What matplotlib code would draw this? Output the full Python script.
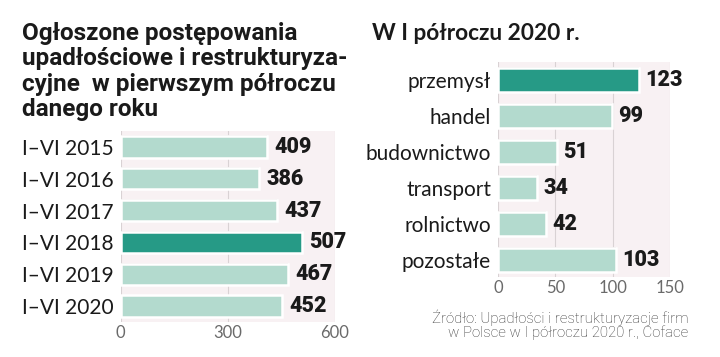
import numpy as np
import matplotlib.pyplot as plt

# left panel: proceedings in H1 of each year
years = ['I–VI 2015', 'I–VI 2016', 'I–VI 2017', 'I–VI 2018', 'I–VI 2019', 'I–VI 2020']
year_vals = [409, 386, 437, 507, 467, 452]
year_highlight = 'I–VI 2018'

# right panel: H1 2020 by sector
sectors = ['przemysł', 'handel', 'budownictwo', 'transport', 'rolnictwo', 'pozostałe']
sector_vals = [123, 99, 51, 34, 42, 103]
sector_highlight = 'przemysł'

left_ticks = [0, 300, 600]
right_ticks = [0, 50, 100, 150]

DARK = '#269a86'
LIGHT = '#b3dace'
BG = '#f8f1f3'
GRID = '#d9d2d4'

fig = plt.figure(figsize=(7.2, 3.57), dpi=100)
fig.patch.set_facecolor('white')


def panel(ax, labels, vals, highlight, ticks, xmax):
    y = np.arange(len(labels))
    colors = [DARK if l == highlight else LIGHT for l in labels]
    ax.set_facecolor(BG)
    for t in ticks:
        ax.axvline(t, color=GRID, lw=0.8, zorder=1)
    # soft shadow then bar
    ax.barh(y, vals, height=0.72, color='#cfc8ca', edgecolor='none', zorder=2,
            alpha=0.6)
    ax.barh(y, vals, height=0.67, color=colors, edgecolor='white', lw=1.8, zorder=3)
    for yi, v in zip(y, vals):
        ax.text(v + xmax * 0.036, yi, str(v), va='center', ha='left',
                fontsize=15.5, fontweight='heavy', family='Roboto',
                color='#1a1a1a', zorder=4)
    ax.set_yticks(y)
    ax.set_yticklabels(labels, fontsize=15, family='Lato', color='#1a1a1a')
    ax.set_xticks(ticks)
    ax.set_xticklabels([str(t) for t in ticks], fontsize=12, family='Lato',
                       color='#6a6a6a')
    ax.set_xlim(0, xmax)
    ax.set_ylim(len(labels) - 0.5, -0.5)
    ax.tick_params(axis='y', length=0, pad=5)
    ax.tick_params(axis='x', length=0, pad=2)
    for s in ax.spines.values():
        s.set_visible(False)


ax1 = fig.add_axes([0.1676, 0.098, 0.2977, 0.535])
panel(ax1, years, year_vals, year_highlight, left_ticks, 600)

ax2 = fig.add_axes([0.6917, 0.2227, 0.2389, 0.6036])
panel(ax2, sectors, sector_vals, sector_highlight, right_ticks, 150)

fig.text(22 / 720, 1 - 22 / 357,
         'Ogłoszone postępowania\nupadłościowe i restrukturyza-\ncyjne  w pierwszym półroczu\ndanego roku',
         fontsize=17.5, fontweight='bold', family='Roboto', color='#1a1a1a',
         va='top', ha='left', linespacing=1.13)
fig.text(372 / 720, 1 - 34 / 357, 'W I półroczu 2020 r.', fontsize=16.3,
         fontweight='bold', family='Lato', color='#1a1a1a', va='center', ha='left')

fig.text(688 / 720, 1 - 309 / 357,
         'Źródło: Upadłości i restrukturyzacje firm\nw Polsce w I półroczu 2020 r., Coface',
         fontsize=10.8, family='Roboto', fontweight='light', color='#333333',
         ha='right', va='top', linespacing=0.95)

fig.savefig('out.png', dpi=100)
